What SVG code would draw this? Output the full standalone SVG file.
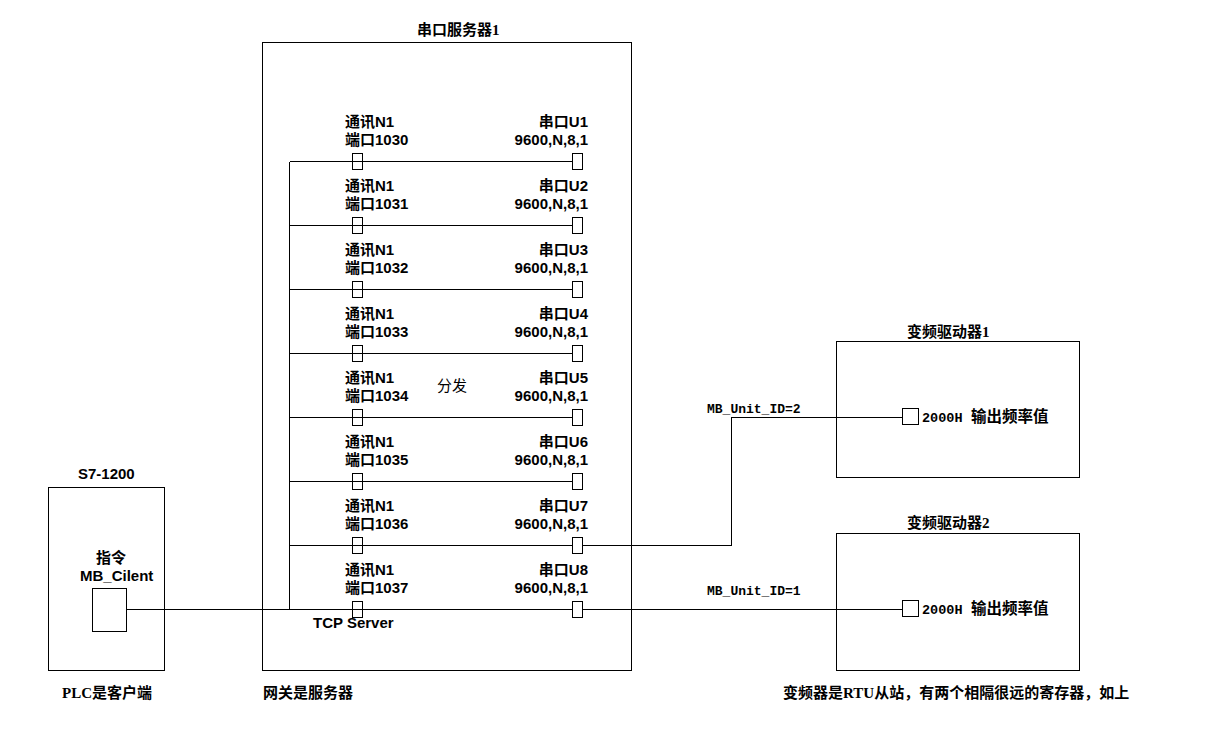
<svg xmlns="http://www.w3.org/2000/svg" width="1216" height="747" viewBox="0 0 1216 747">
<style>
.box{fill:#fff;stroke:#000;stroke-width:1;shape-rendering:crispEdges}
.sq{fill:#fff;stroke:#000;stroke-width:1;shape-rendering:crispEdges}
.ln{fill:none;stroke:#000;stroke-width:1;shape-rendering:crispEdges}
.s{font-family:"Liberation Sans","Noto Sans CJK SC",sans-serif;font-size:15px;font-weight:bold;fill:#000}
.t{font-family:"Liberation Serif","Noto Sans CJK SC",serif;font-size:15px;font-weight:bold;fill:#000}
.m{font-family:"Liberation Mono","Noto Sans CJK SC",monospace;font-size:13px;font-weight:bold;fill:#000}
.e{text-anchor:end}
</style>
<rect width="1216" height="747" fill="#fff"/>

<g id="plc">
<rect class="box" x="48.5" y="487.5" width="116" height="183"/>
<text class="s" x="78" y="479">S7-1200</text>
<text class="s" x="96" y="563">指令</text>
<text class="s" x="80" y="581">MB_Cilent</text>
<rect class="box" x="92.5" y="588.5" width="34" height="43"/>
<text class="t" x="62" y="698">PLC是客户端</text>
</g>

<g id="server">
<rect class="box" x="262.5" y="42.5" width="369" height="628"/>
<text class="t" x="417" y="35">串口服务器1</text>
<text class="s" x="437" y="391" style="font-weight:normal">分发</text>
<text class="s" x="313" y="628">TCP Server</text>
<text class="t" x="263" y="698">网关是服务器</text>
</g>

<g id="drive1">
<rect class="box" x="836.5" y="341.5" width="243" height="136"/>
<text class="t" x="907" y="337">变频驱动器1</text>
</g>

<g id="drive2">
<rect class="box" x="836.5" y="533.5" width="243" height="137"/>
<text class="t" x="907" y="528">变频驱动器2</text>
</g>

<text class="t" x="783" y="698">变频器是RTU从站，有两个相隔很远的寄存器，如上</text>

<g id="connectors">
<path class="ln" d="M289.5 161.5V609.5"/>
<path class="ln" d="M289.5 161.5H572.5M289.5 225.5H572.5M289.5 289.5H572.5M289.5 353.5H572.5M289.5 417.5H572.5M289.5 481.5H572.5M289.5 545.5H572.5M126.5 609.5H572.5"/>
<path class="ln" d="M582.5 545.5H731.5V417.5H902.5"/>
<path class="ln" d="M582.5 609.5H902.5"/>
<text class="m" x="707" y="413">MB_Unit_ID=2</text>
<text class="m" x="707" y="595">MB_Unit_ID=1</text>
</g>

<g id="reg1">
<rect class="sq" x="902.5" y="408.5" width="16" height="16"/>
<text class="m" x="922" y="422" style="font-size:13.5px">2000H</text>
<text class="t" x="971" y="422" style="font-size:15.5px">输出频率值</text>
</g>
<g id="reg2">
<rect class="sq" x="902.5" y="600.5" width="16" height="16"/>
<text class="m" x="922" y="614" style="font-size:13.5px">2000H</text>
<text class="t" x="971" y="614" style="font-size:15.5px">输出频率值</text>
</g>

<g id="port1"><rect class="sq" x="352.5" y="153.5" width="10" height="16"/><rect class="sq" x="572.5" y="153.5" width="10" height="16"/><path class="ln" d="M352.5 161.5H362.5"/>
<text class="s" x="345" y="127">通讯N1</text><text class="s" x="345" y="145">端口1030</text>
<text class="s e" x="588" y="127">串口U1</text><text class="s e" x="588" y="145">9600,N,8,1</text></g>

<g id="port2"><rect class="sq" x="352.5" y="217.5" width="10" height="16"/><rect class="sq" x="572.5" y="217.5" width="10" height="16"/><path class="ln" d="M352.5 225.5H362.5"/>
<text class="s" x="345" y="191">通讯N1</text><text class="s" x="345" y="209">端口1031</text>
<text class="s e" x="588" y="191">串口U2</text><text class="s e" x="588" y="209">9600,N,8,1</text></g>

<g id="port3"><rect class="sq" x="352.5" y="281.5" width="10" height="16"/><rect class="sq" x="572.5" y="281.5" width="10" height="16"/><path class="ln" d="M352.5 289.5H362.5"/>
<text class="s" x="345" y="255">通讯N1</text><text class="s" x="345" y="273">端口1032</text>
<text class="s e" x="588" y="255">串口U3</text><text class="s e" x="588" y="273">9600,N,8,1</text></g>

<g id="port4"><rect class="sq" x="352.5" y="345.5" width="10" height="16"/><rect class="sq" x="572.5" y="345.5" width="10" height="16"/><path class="ln" d="M352.5 353.5H362.5"/>
<text class="s" x="345" y="319">通讯N1</text><text class="s" x="345" y="337">端口1033</text>
<text class="s e" x="588" y="319">串口U4</text><text class="s e" x="588" y="337">9600,N,8,1</text></g>

<g id="port5"><rect class="sq" x="352.5" y="409.5" width="10" height="16"/><rect class="sq" x="572.5" y="409.5" width="10" height="16"/><path class="ln" d="M352.5 417.5H362.5"/>
<text class="s" x="345" y="383">通讯N1</text><text class="s" x="345" y="401">端口1034</text>
<text class="s e" x="588" y="383">串口U5</text><text class="s e" x="588" y="401">9600,N,8,1</text></g>

<g id="port6"><rect class="sq" x="352.5" y="473.5" width="10" height="16"/><rect class="sq" x="572.5" y="473.5" width="10" height="16"/><path class="ln" d="M352.5 481.5H362.5"/>
<text class="s" x="345" y="447">通讯N1</text><text class="s" x="345" y="465">端口1035</text>
<text class="s e" x="588" y="447">串口U6</text><text class="s e" x="588" y="465">9600,N,8,1</text></g>

<g id="port7"><rect class="sq" x="352.5" y="537.5" width="10" height="16"/><rect class="sq" x="572.5" y="537.5" width="10" height="16"/><path class="ln" d="M352.5 545.5H362.5"/>
<text class="s" x="345" y="511">通讯N1</text><text class="s" x="345" y="529">端口1036</text>
<text class="s e" x="588" y="511">串口U7</text><text class="s e" x="588" y="529">9600,N,8,1</text></g>

<g id="port8"><rect class="sq" x="352.5" y="601.5" width="10" height="16"/><rect class="sq" x="572.5" y="601.5" width="10" height="16"/><path class="ln" d="M352.5 609.5H362.5"/>
<text class="s" x="345" y="575">通讯N1</text><text class="s" x="345" y="593">端口1037</text>
<text class="s e" x="588" y="575">串口U8</text><text class="s e" x="588" y="593">9600,N,8,1</text></g>
</svg>
